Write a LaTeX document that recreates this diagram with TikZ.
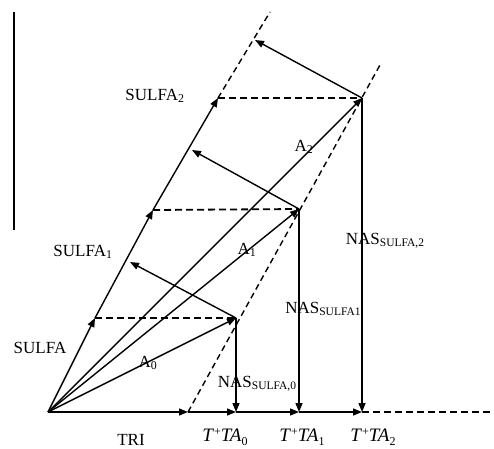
\documentclass[tikz,border=0pt]{standalone}
\usepackage{fontspec}
\setmainfont{Liberation Serif}
\usetikzlibrary{arrows.meta}
\tikzset{
  ln/.style={line width=1.4pt},
  arr/.style={line width=1.4pt,-{Triangle[length=9pt,width=7pt]}},
  dsh/.style={line width=1.4pt,dash pattern=on 6pt off 4pt},
  hdsh/.style={line width=1.8pt,dash pattern=on 7pt off 4pt},
  lbl/.style={inner sep=0pt,font=\fontsize{17}{18}\selectfont},
}
\newcommand{\nassub}[1]{NAS\raisebox{-2pt}{\fontsize{11.5}{12}\selectfont #1}}
\newcommand{\ttlab}[1]{{\fontsize{19}{20}\selectfont\textit{T}\raisebox{6pt}{\fontsize{12}{12}\selectfont +}\textit{TA}\raisebox{-4pt}{\fontsize{12}{12}\selectfont #1}}}
\begin{document}
\begin{tikzpicture}[x=1pt,y=-1pt]
\useasboundingbox (0,0) rectangle (494,448);
% coordinates
\coordinate (O) at (48,412);
\coordinate (S1) at (95,318);
\coordinate (P0) at (130,262);
\coordinate (S2) at (153,210);
\coordinate (P1) at (192,150);
\coordinate (S3) at (218,98);
\coordinate (P2) at (255,40);
\coordinate (Top) at (270,12);
\coordinate (A0) at (236,318);
\coordinate (A1) at (299,209);
\coordinate (A2) at (362,98);
\coordinate (T) at (188,412);
\coordinate (X0) at (236,412);
\coordinate (X1) at (299,412);
\coordinate (X2) at (362,412);
\coordinate (E) at (494,412);
\coordinate (Dtop) at (380,65);
\coordinate (V1) at (14,12);
\coordinate (V2) at (14,230);
% left vertical line
\draw[line width=1.4pt] (V1) -- (V2);
% SULFA axis
\draw[arr] (O) -- (S1);
\draw[arr] (S1) -- (S2);
\draw[arr] (S2) -- (S3);
\draw[dsh] (S3) -- (Top);
% TRI axis
\draw[arr] (O) -- (T);
\draw[arr] (T) -- (X0);
\draw[arr] (X0) -- (X1);
\draw[arr] (X1) -- (X2);
\draw[hdsh] (X2) -- (E);
% slanted dashed through A1, A2
\draw[dsh] (T) -- (Dtop);
% horizontal dashed
\draw[hdsh,line width=1.5pt] (S1) -- (A0);
\draw[hdsh,line width=1.8pt] (S2) -- (A1);
\draw[hdsh,line width=2.1pt] (S3) -- (A2);
% A vectors
\draw[arr] (O) -- (A0);
\draw[arr] (O) -- (A1);
\draw[arr] (O) -- (A2);
% perpendicular arrows
\draw[arr] (A0) -- (P0);
\draw[arr] (A1) -- (P1);
\draw[arr] (A2) -- (P2);
% NAS verticals
\draw[arr] (A0) -- (X0);
\draw[arr] (A1) -- (X1);
\draw[arr] (A2) -- (X2);
% labels
\node[lbl] (lS) at (40,348) {SULFA};
\node[lbl] (lS1) at (83,252) {SULFA\textsubscript{1}};
\node[lbl] (lS2) at (155,96) {SULFA\textsubscript{2}};
\node[lbl] (lTRI) at (131,440) {TRI};
\node[lbl] (lA0) at (148,363) {A\textsubscript{0}};
\node[lbl] (lA1) at (247,250) {A\textsubscript{1}};
\node[lbl] (lA2) at (304,147) {A\textsubscript{2}};
\node[lbl] (lN0) at (257,384) {\nassub{SULFA,0}};
\node[lbl] (lN1) at (323,309) {\nassub{SULFA1}};
\node[lbl] (lN2) at (385,241) {\nassub{SULFA,2}};
\node[lbl] (lT0) at (225,437) {\ttlab{0}};
\node[lbl] (lT1) at (302,437) {\ttlab{1}};
\node[lbl] (lT2) at (373,437) {\ttlab{2}};
\end{tikzpicture}
\end{document}
